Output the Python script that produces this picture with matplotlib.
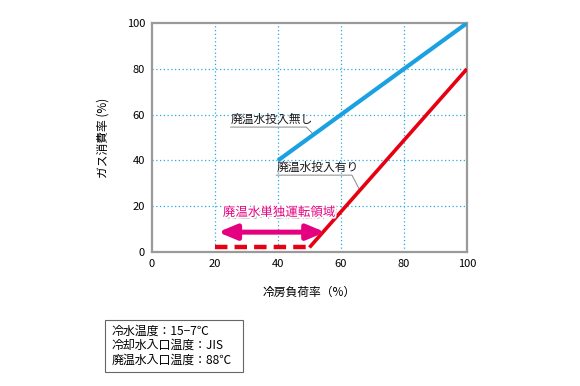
import matplotlib
matplotlib.use("Agg")
import matplotlib.pyplot as plt
import matplotlib.patheffects as pe
from matplotlib.patches import Rectangle

plt.rcParams['font.family'] = ['Noto Sans CJK JP', 'DejaVu Sans']

# Data
load_without = [40, 100]
gas_without = [40, 100]
load_with_dash = [20, 50]
gas_with_dash = [2, 2]
load_with = [50, 100]
gas_with = [2, 80]
region_range = [21, 55]
region_y = 8.7
xticks = [0, 20, 40, 60, 80, 100]
yticks = [0, 20, 40, 60, 80, 100]

BLUE = '#1ba1e2'
RED = '#e60012'
PINK = '#e4007f'
GRID = '#29abe2'

fig = plt.figure(figsize=(5.8, 3.86), dpi=100)
ax = fig.add_axes([0.262, 0.347, 0.543, 0.593])
ax.set_xlim(0, 100)
ax.set_ylim(0, 100)
ax.set_xticks(xticks)
ax.set_yticks(yticks)
ax.tick_params(length=0, labelsize=8, pad=5)
for s in ax.spines.values():
    s.set_color('#9a9a9a')
    s.set_linewidth(1.6)
for v in xticks[1:-1]:
    ax.axvline(v, color=GRID, lw=0.9, ls=(0, (1, 2)), zorder=1)
for v in yticks[1:-1]:
    ax.axhline(v, color=GRID, lw=0.9, ls=(0, (1, 2)), zorder=1)

ax.plot(load_without, gas_without, color=BLUE, lw=3.0, solid_capstyle='butt', zorder=3)
ax.plot(load_with, gas_with, color=RED, lw=2.6, solid_capstyle='butt', zorder=3)
ax.plot(load_with_dash, gas_with_dash, color=RED, lw=3.2, ls=(0, (2.8, 1.6)), zorder=3)

# arrow
ax.annotate('', xy=(region_range[0], region_y), xytext=(region_range[1], region_y),
            arrowprops=dict(arrowstyle='<|-|>,head_length=0.6,head_width=0.25', color=PINK,
                            lw=3.6, mutation_scale=18, shrinkA=0, shrinkB=0), zorder=4)
ax.text(22.5, 17.3, '廃温水単独運転領域', color=PINK, fontsize=9, va='center', ha='left',
        path_effects=[pe.withSimplePatchShadow(offset=(1.5, -1.5), shadow_rgbFace='#777777', alpha=0.6),
                      pe.withStroke(linewidth=2.5, foreground='white')], zorder=5)

# labels with leader lines
ax.text(25, 55.2, '廃温水投入無し', fontsize=8.5, va='bottom', ha='left', color='#1a1a1a', zorder=5)
ax.plot([25, 49, 51.2], [54.6, 54.6, 51.5], color='#888888', lw=0.7, zorder=2)
ax.text(39.5, 34.2, '廃温水投入有り', fontsize=8.5, va='bottom', ha='left', color='#1a1a1a', zorder=5)
ax.plot([39.5, 63.5, 66], [33.6, 33.6, 27], color='#888888', lw=0.7, zorder=2)

ax.set_ylabel('ガス消費率 (%)', fontsize=8.5, labelpad=12)
ax.set_xlabel('冷房負荷率（%）', fontsize=8.5, labelpad=12)

# condition box
fig.patches.append(Rectangle((105/580, 1 - 372/386), 138/580, 52/386, transform=fig.transFigure,
                             facecolor='white', edgecolor='#666666', lw=0.8))
lines = ['冷水温度：15−7℃', '冷却水入口温度：JIS', '廃温水入口温度：88℃']
for i, t in enumerate(lines):
    fig.text(112/580, 1 - (331 + 14.5 * i)/386, t, fontsize=8.6, va='center', ha='left')

fig.savefig('out.png', dpi=100)
